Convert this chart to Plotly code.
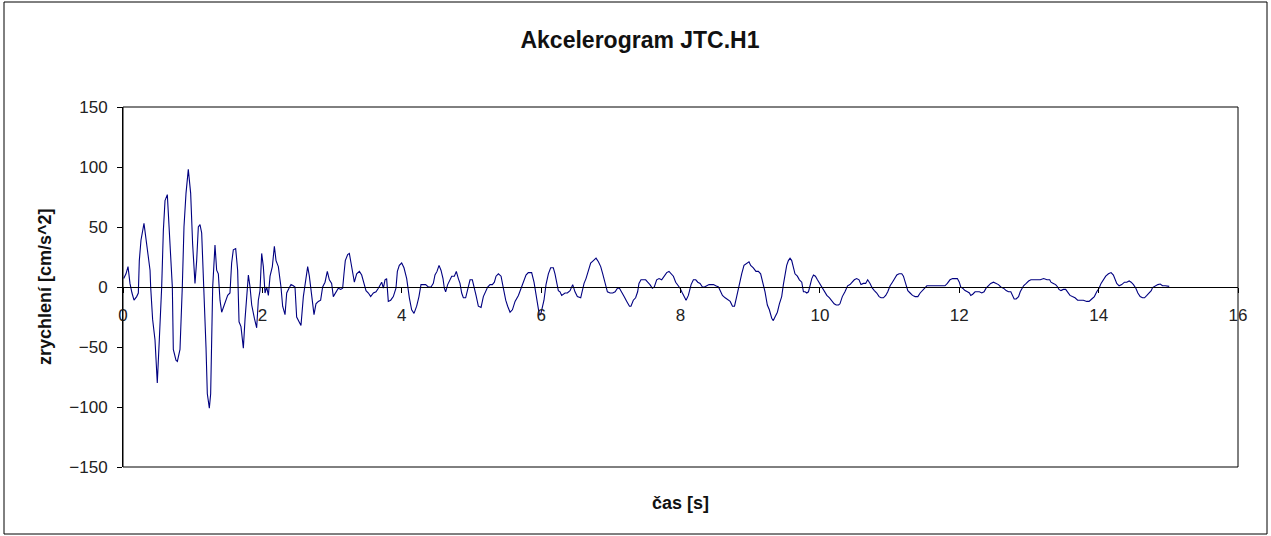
import plotly.graph_objects as go

# time [s]
t = [0.01, 0.043, 0.072, 0.10, 0.129, 0.158, 0.196, 0.22, 0.234, 0.258, 0.301, 0.34, 0.388, 0.397,
     0.425, 0.459, 0.492, 0.521, 0.555, 0.579, 0.603, 0.636, 0.674, 0.708, 0.722, 0.76, 0.78, 0.818,
     0.851, 0.875, 0.904, 0.937, 0.971, 0.999, 1.033, 1.057, 1.081, 1.105, 1.129, 1.162, 1.191, 1.21,
     1.239, 1.258, 1.287, 1.32,
     1.344, 1.368, 1.392, 1.416, 1.464, 1.502, 1.535, 1.559, 1.583, 1.617, 1.645, 1.665, 1.693, 1.727,
     1.751, 1.775, 1.799, 1.823, 1.847, 1.885, 1.918, 1.942, 1.966, 1.99, 2.014, 2.038, 2.062, 2.086,
     2.11, 2.143, 2.172, 2.196, 2.229, 2.267, 2.291, 2.325, 2.349, 2.382, 2.411, 2.444, 2.468, 2.492,
     2.525, 2.554, 2.588, 2.621, 2.65, 2.674,
     2.707, 2.741, 2.769, 2.803, 2.836, 2.865, 2.899, 2.932, 2.961, 2.994, 3.018, 3.056, 3.09, 3.124,
     3.152, 3.171, 3.19, 3.224, 3.248, 3.272, 3.296, 3.32, 3.353, 3.392, 3.425, 3.459, 3.487, 3.521,
     3.554, 3.593, 3.631, 3.664, 3.688, 3.712, 3.736, 3.76, 3.783, 3.807, 3.841, 3.879, 3.917, 3.937,
     3.965, 3.999, 4.032, 4.071, 4.109, 4.142, 4.176, 4.214,
     4.247, 4.276, 4.31, 4.343, 4.381, 4.42, 4.453, 4.477, 4.506, 4.535, 4.563, 4.592, 4.611, 4.63,
     4.659, 4.688, 4.717, 4.755, 4.783, 4.812, 4.836, 4.86, 4.884, 4.917, 4.946, 4.98, 5.013, 5.042,
     5.066, 5.099, 5.138, 5.171, 5.205, 5.233, 5.267, 5.3, 5.329, 5.353, 5.387, 5.425, 5.458, 5.492,
     5.52, 5.554, 5.588, 5.626, 5.674, 5.722,
     5.735, 5.783, 5.816, 5.864, 5.898, 5.927, 5.946, 5.974, 5.993, 6.022, 6.041, 6.07, 6.104, 6.137,
     6.175, 6.199, 6.223, 6.247, 6.271, 6.295, 6.343, 6.376, 6.415, 6.453, 6.486, 6.52, 6.568, 6.597,
     6.616, 6.644, 6.678, 6.711, 6.75, 6.788, 6.822, 6.855, 6.884, 6.918, 6.951, 6.99, 7.028, 7.062,
     7.095, 7.124, 7.158, 7.191, 7.229, 7.268,
     7.289, 7.323, 7.356, 7.385, 7.404, 7.433, 7.466, 7.5, 7.529, 7.562, 7.596, 7.624, 7.658, 7.692,
     7.73, 7.768, 7.802, 7.835, 7.864, 7.898, 7.931, 7.96, 7.994, 8.027, 8.056, 8.08, 8.113, 8.152,
     8.185, 8.219, 8.248, 8.281, 8.315, 8.343, 8.377, 8.41, 8.439, 8.473, 8.506, 8.545, 8.569, 8.602,
     8.641, 8.679, 8.713, 8.746, 8.775,
     8.806, 8.83, 8.854, 8.878, 8.911, 8.95, 8.983, 9.007, 9.045, 9.083, 9.117, 9.15, 9.179, 9.213,
     9.246, 9.275, 9.309, 9.332, 9.356, 9.39, 9.419, 9.452, 9.476, 9.5, 9.524, 9.548, 9.572, 9.596,
     9.62, 9.643, 9.677, 9.706, 9.74, 9.764, 9.788, 9.812, 9.836, 9.86, 9.884, 9.908, 9.936, 9.965,
     9.994, 10.028, 10.061, 10.1, 10.138, 10.172, 10.205, 10.234, 10.268,
     10.288, 10.322, 10.36, 10.398, 10.432, 10.466, 10.494, 10.528, 10.562, 10.59, 10.624, 10.657,
     10.686, 10.72, 10.753, 10.782, 10.816, 10.85, 10.878, 10.912, 10.945, 10.974, 11.008, 11.041,
     11.07, 11.104, 11.137, 11.175, 11.199, 11.233, 11.262, 11.295, 11.329, 11.367, 11.406, 11.439,
     11.473, 11.502, 11.535, 11.569, 11.655, 11.751,
     11.795, 11.829, 11.867, 11.905, 11.939, 11.973, 12.001, 12.021, 12.049, 12.083, 12.117, 12.146,
     12.165, 12.193, 12.227, 12.261, 12.289, 12.323, 12.356, 12.385, 12.419, 12.452, 12.491, 12.529,
     12.563, 12.596, 12.635, 12.673, 12.706, 12.74, 12.769, 12.788, 12.817, 12.851, 12.875, 12.899,
     12.923, 12.961, 12.995, 13.028, 13.067, 13.115, 13.163, 13.211, 13.259, 13.298,
     13.316, 13.35, 13.383, 13.412, 13.431, 13.46, 13.493, 13.527, 13.555, 13.589, 13.623, 13.661,
     13.699, 13.733, 13.781, 13.829, 13.863, 13.901, 13.939, 13.973, 14.006, 14.035, 14.069, 14.102,
     14.141, 14.179, 14.212, 14.236, 14.26, 14.294, 14.332, 14.371, 14.404, 14.438, 14.467, 14.5,
     14.534, 14.563, 14.596, 14.63, 14.659, 14.692, 14.726, 14.755, 14.774, 14.812, 14.85, 14.884,
     14.917, 14.956, 14.994, 15.013]

# acceleration [cm/s^2]
acc = [7, 11, 17, 3, -5, -11, -8, -5, 22, 39, 53, 36, 14, 0,
       -27, -44, -80, -44, 0, 47, 72, 77, 34, 0, -52, -61, -62, -52,
       0, 50, 78, 98, 78, 36, 3, 22, 50, 52, 45, 0, -50, -89,
       -101, -89, 0, 35,
       14, 11, -11, -21, -14, -7, -5, 20, 31, 32, 14, -29, -33, -51,
       -27, -8, 10, 0, -15, -26, -34, -11, -3, 28, 17, -5, 0, -7,
       9, 17, 34, 22, 17, 0, -16, -23, -5, -1, 2, 1, 0, -25,
       -29, -32, -8, 7, 17, 9,
       -8, -23, -14, -12, -11, 0, 4, 13, 6, 3, -8, -4, -1, -2,
       -1, 11, 22, 27, 28, 20, 13, 4, 11, 13, 10, 3, -3, -5,
       -8, -5, -4, -1, 2, 4, -1, 6, 7, -12, -11, -8, -1, 13,
       18, 20, 16, 7, -9, -19, -22, -16,
       -8, 2, 2, 2, 0, 0, 3, 10, 13, 18, 14, 7, -1, -4,
       2, 6, 9, 9, 13, 7, 3, -5, -9, -9, -1, 6, 6, 0,
       -7, -16, -17, -8, -4, 0, 2, 2, 4, 9, 11, 9, -1, -11,
       -16, -21, -19, -12, -7, 0,
       2, 10, 12, 12, 4, -7, -15, -23, -23, -16, -11, 2, 11, 16,
       16, 11, 2, -3, -4, -7, -5, -5, -3, 2, -4, -8, -9, -1,
       3, 7, 14, 20, 22, 24, 21, 17, 11, 3, -4, -5, -5, -4,
       -1, -1, -4, -8, -12, -16,
       -16, -11, -9, -4, 3, 6, 6, 6, 4, 2, -1, 0, 6, 7,
       6, 9, 12, 13, 11, 9, 4, 2, -1, -5, -8, -11, -7, 2,
       6, 6, 4, 3, 0, 0, 1, 2, 2, 2, 1, 0, -3, -7,
       -9, -11, -12, -16, -16,
       -8, -1, 6, 11, 18, 20, 21, 18, 16, 13, 13, 11, 4, -4,
       -15, -19, -26, -28, -25, -21, -14, -8, 2, 11, 18, 22, 24, 22,
       17, 11, 9, 6, 4, -4, -4, -5, -4, 3, 7, 10, 9, 6,
       3, 0, -3, -7, -9, -12, -14, -15, -15,
       -14, -8, -4, 1, 2, 4, 6, 7, 6, 2, 3, 3,
       6, 3, -1, -3, -5, -8, -9, -9, -7, -4, 1, 4,
       7, 10, 11, 11, 9, 3, -3, -5, -7, -8, -8, -5,
       -3, -0.5, 1, 1, 1, 1,
       1, 3, 6, 7, 7, 7, 4, 0, -1, -3, -4, -5,
       -7, -6, -4, -4, -4, -5, -4, -1, 1, 3, 4, 3,
       2, 0, -1, -3, -4, -4, -8, -10, -10, -8, -4, -1,
       1, 3, 5, 6, 6, 6, 6, 7, 6, 6,
       4, 3, 2, 0, -2, -3, -2, -2, -4, -7, -8, -9,
       -11, -11, -11, -12, -12, -10, -8, -4, -1, 3, 6, 9,
       11, 12, 10, 6, 3, 1, 2, 4, 4, 5, 4, 2,
       -1, -5, -8, -9, -9, -7, -5, -3, -0.5, 1, 2, 2.5,
       1, 1, 0.5, 0.5]

x_ticks = [0, 2, 4, 6, 8, 10, 12, 14, 16]
y_ticks = [-150, -100, -50, 0, 50, 100, 150]

FONT = "Liberation Sans, Arial, sans-serif"

fig = go.Figure()
fig.add_trace(go.Scatter(x=t, y=acc, mode="lines",
                         line=dict(color="#000080", width=1.1), showlegend=False,
                         hoverinfo="skip"))

fig.update_layout(
    width=1271, height=536,
    margin=dict(l=123, r=33, t=107, b=69),
    paper_bgcolor="white", plot_bgcolor="white",
    font=dict(family=FONT, color="#222", size=17),
    title=dict(text="<b>Akcelerogram JTC.H1</b>", x=640 / 1271, xref="container",
               xanchor="center", y=1 - 40 / 536, yref="container", yanchor="middle",
               font=dict(family=FONT, size=23, color="#111")),
    xaxis=dict(range=[0, 16], tickvals=x_ticks, ticktext=[str(v) for v in x_ticks],
               anchor="free", position=0.5, showline=True, linecolor="black", linewidth=1,
               ticks="outside", ticklen=5, tickcolor="black", showgrid=False, zeroline=False,
               ticklabelstandoff=8, tickfont=dict(size=17, color="#222")),
    yaxis=dict(range=[-150, 150], tickvals=y_ticks, domain=[0, 1],
               showline=True, linecolor="black", linewidth=1,
               ticks="outside", ticklen=5, tickcolor="black", showgrid=False, zeroline=False,
               ticklabelstandoff=6, tickfont=dict(size=17, color="#222")),
    shapes=[
        dict(type="rect", xref="paper", yref="paper", x0=0, x1=1, y0=0, y1=1,
             line=dict(color="black", width=1), layer="above"),
        dict(type="rect", xref="paper", yref="paper",
             x0=(4 - 123) / 1115, x1=(1267 - 123) / 1115,
             y0=(467 - 534) / 360, y1=(467 - 2) / 360,
             line=dict(color="black", width=1)),
    ],
    annotations=[
        dict(text="<b>čas [s]</b>", xref="paper", yref="paper", x=0.5, y=(467 - 503) / 360,
             xanchor="center", yanchor="middle", showarrow=False,
             font=dict(family=FONT, size=18, color="#111")),
        dict(text="<b>zrychlení [cm/s^2]</b>", xref="paper", yref="paper",
             x=(45 - 123) / 1115, y=0.5, xanchor="center", yanchor="middle",
             textangle=-90, showarrow=False,
             font=dict(family=FONT, size=18, color="#111")),
    ],
)

fig.write_html("out.html")
